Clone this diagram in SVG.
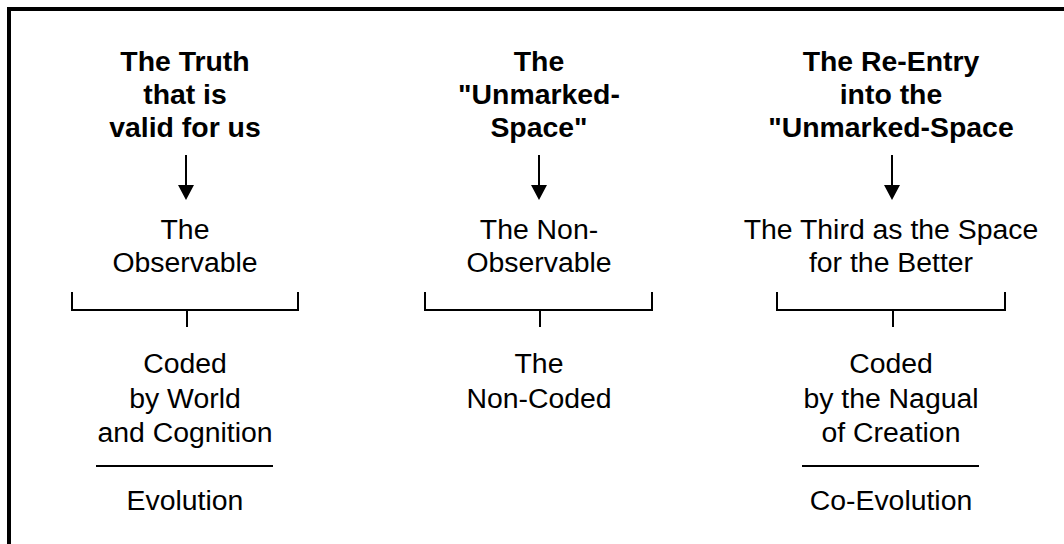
<svg xmlns="http://www.w3.org/2000/svg" width="1064" height="544" viewBox="0 0 1064 544">
<style>
.b{font-family:"Liberation Sans",Arial,sans-serif;font-size:28.4px;font-weight:bold;text-anchor:middle;fill:#000}
.r{font-family:"Liberation Sans",Arial,sans-serif;font-size:28.4px;text-anchor:middle;fill:#000}
.ln{stroke:#000;stroke-width:2;fill:none}
</style>
<defs>
<marker id="ah" viewBox="0 0 15 16" refX="1" refY="8" markerWidth="15" markerHeight="16" markerUnits="userSpaceOnUse" orient="auto">
<path d="M0,0 L15,8 L0,16 Z" fill="#000"/>
</marker>
</defs>
<rect x="9" y="9" width="1100" height="600" fill="none" stroke="#000" stroke-width="4"/>
<g id="col1">
<g id="n-truth"><text class="b" x="185" y="71">The Truth</text><text class="b" x="185" y="104">that is</text><text class="b" x="185" y="137">valid for us</text></g>
<g id="n-observable"><text class="r" x="185" y="239">The</text><text class="r" x="185" y="272">Observable</text></g>
<g id="n-coded1"><text class="r" x="185" y="373">Coded</text><text class="r" x="185" y="408">by World</text><text class="r" x="185" y="442">and Cognition</text></g>
<g id="n-evolution"><text class="r" x="185" y="510">Evolution</text></g>
</g>
<g id="col2">
<g id="n-unmarked"><text class="b" x="539" y="71">The</text><text class="b" x="539" y="104">"Unmarked-</text><text class="b" x="539" y="137">Space"</text></g>
<g id="n-nonobs"><text class="r" x="539" y="239">The Non-</text><text class="r" x="539" y="272">Observable</text></g>
<g id="n-noncoded"><text class="r" x="539" y="373">The</text><text class="r" x="539" y="408">Non-Coded</text></g>
</g>
<g id="col3">
<g id="n-reentry"><text class="b" x="891" y="71">The Re-Entry</text><text class="b" x="891" y="104">into the</text><text class="b" x="891" y="137">"Unmarked-Space</text></g>
<g id="n-third"><text class="r" x="891" y="239">The Third as the Space</text><text class="r" x="891" y="272">for the Better</text></g>
<g id="n-coded3"><text class="r" x="891" y="373">Coded</text><text class="r" x="891" y="408">by the Nagual</text><text class="r" x="891" y="442">of Creation</text></g>
<g id="n-coevolution"><text class="r" x="891" y="510">Co-Evolution</text></g>
</g>
<g id="connectors">
<line class="ln" x1="186" y1="155" x2="186" y2="186" marker-end="url(#ah)"/>
<line class="ln" x1="539" y1="155" x2="539" y2="186" marker-end="url(#ah)"/>
<line class="ln" x1="892" y1="155" x2="892" y2="186" marker-end="url(#ah)"/>
<path class="ln" d="M72,292 V310 H298 V292 M187,310 V327"/>
<path class="ln" d="M425,292 V310 H652 V292 M540,310 V327"/>
<path class="ln" d="M777,292 V310 H1005 V292 M893,310 V327"/>
<line class="ln" x1="96" y1="466" x2="273" y2="466"/>
<line class="ln" x1="802" y1="466" x2="979" y2="466"/>
</g>
</svg>
